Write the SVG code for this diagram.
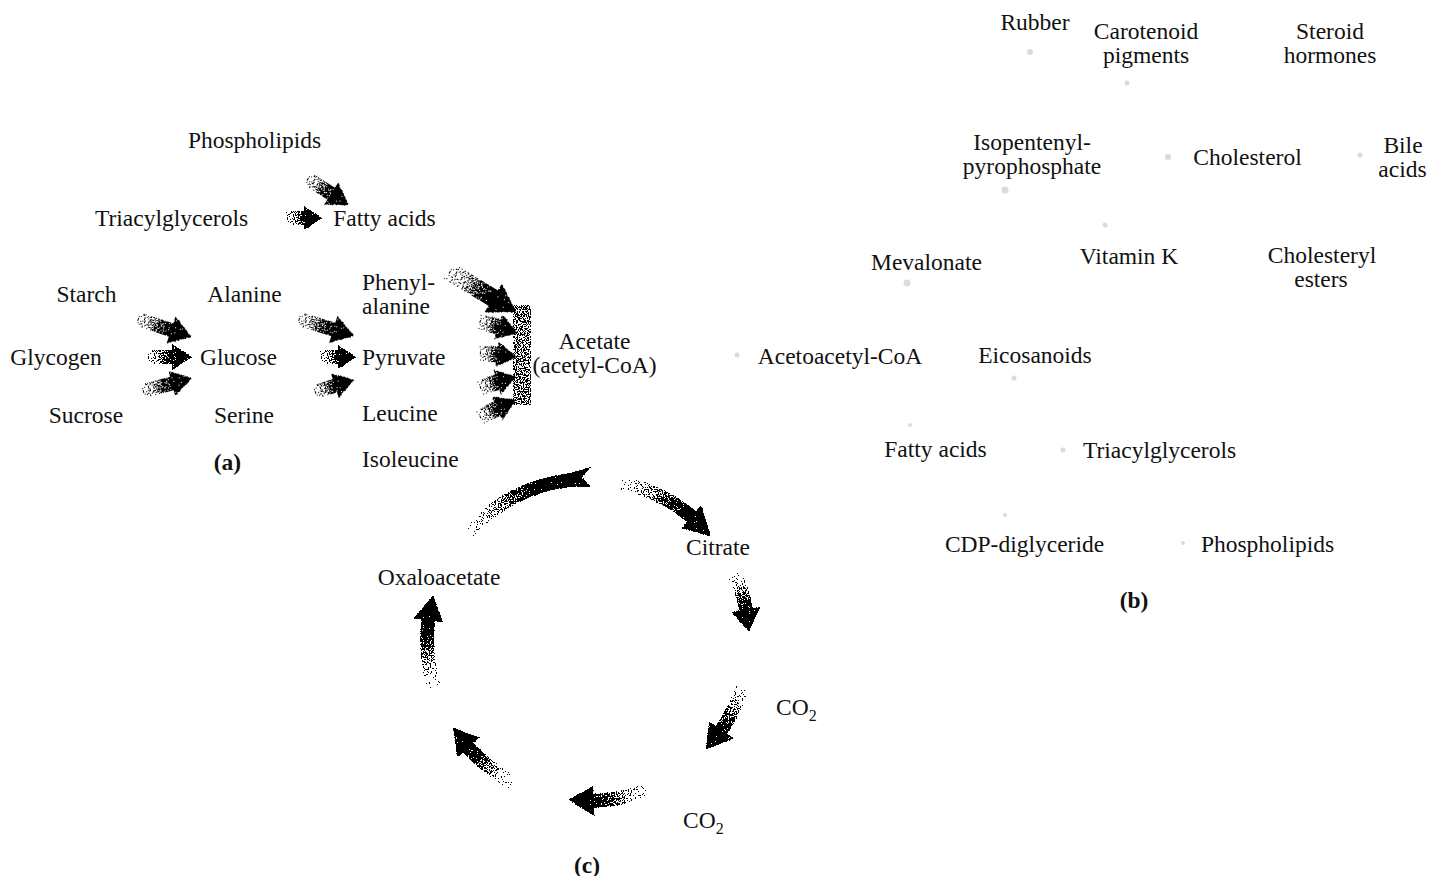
<svg xmlns="http://www.w3.org/2000/svg" width="1429" height="876" viewBox="0 0 1429 876">
<style>
.t{font-family:"Liberation Serif","Times New Roman",serif;font-size:23.5px;fill:#111}
.m{text-anchor:middle}
.b{font-weight:bold}
.sub{font-size:16px}
.arr{fill:url(#fade);filter:url(#grain)}
.speck{fill:#999;opacity:.35}
</style>
<defs>
<filter id="grain" x="-15%" y="-15%" width="130%" height="130%">
<feTurbulence type="fractalNoise" baseFrequency="0.85" numOctaves="1" seed="4" result="n"/>
<feColorMatrix in="n" type="matrix" values="0 0 0 0 0  0 0 0 0 0  0 0 0 0 0  1 0 0 0 0" result="na"/>
<feComposite in="SourceGraphic" in2="na" operator="arithmetic" k1="0" k2="1" k3="2.2" k4="-1.1" result="c"/>
<feComponentTransfer in="c" result="d"><feFuncA type="discrete" tableValues="0 1"/></feComponentTransfer>
<feComponentTransfer in="SourceAlpha" result="mask"><feFuncA type="discrete" tableValues="0 1 1 1 1 1 1 1 1 1 1 1 1 1 1 1 1 1 1 1"/></feComponentTransfer>
<feComposite in="d" in2="mask" operator="in"/>
</filter>
<linearGradient id="fade" x1="0" y1="0" x2="1" y2="0">
<stop offset="0" stop-color="#000" stop-opacity="0.1"/>
<stop offset="0.3" stop-color="#000" stop-opacity="0.45"/>
<stop offset="0.55" stop-color="#000" stop-opacity="0.8"/>
<stop offset="0.7" stop-color="#000" stop-opacity="1"/>
<stop offset="1" stop-color="#000" stop-opacity="1"/>
</linearGradient>
<linearGradient id="cf">
<stop offset="0" stop-color="#000" stop-opacity="0.08"/>
<stop offset="0.3" stop-color="#000" stop-opacity="0.45"/>
<stop offset="0.6" stop-color="#000" stop-opacity="0.85"/>
<stop offset="0.78" stop-color="#000" stop-opacity="1"/>
<stop offset="1" stop-color="#000" stop-opacity="1"/>
</linearGradient>
<linearGradient id="g1" gradientUnits="userSpaceOnUse" x1="466" y1="532" x2="588" y2="478" href="#cf"/>
<linearGradient id="g2" gradientUnits="userSpaceOnUse" x1="621" y1="482" x2="711" y2="536" href="#cf"/>
<linearGradient id="g3" gradientUnits="userSpaceOnUse" x1="734" y1="572" x2="749" y2="632" href="#cf"/>
<linearGradient id="g4" gradientUnits="userSpaceOnUse" x1="742" y1="687" x2="706" y2="750" href="#cf"/>
<linearGradient id="g5" gradientUnits="userSpaceOnUse" x1="646" y1="790" x2="568" y2="800" href="#cf"/>
<linearGradient id="g6" gradientUnits="userSpaceOnUse" x1="512" y1="782" x2="453" y2="728" href="#cf"/>
<linearGradient id="g7" gradientUnits="userSpaceOnUse" x1="434" y1="687" x2="433" y2="596" href="#cf"/>
</defs>
<rect width="1429" height="876" fill="#fff"/>

<g id="connectors">
<path class="arr" transform="translate(135,318) rotate(18.4)" d="M0,-7 L38,-7 L38,-14 L60,0 L38,14 L38,7 L0,7 Z"/>
<path class="arr" transform="translate(145,357)" d="M0,-7 L27,-7 L27,-13 L47,0 L27,13 L27,7 L0,7 Z"/>
<path class="arr" transform="translate(140,392) rotate(-15)" d="M0,-7 L33,-7 L33,-13 L54,0 L33,13 L33,7 L0,7 Z"/>
<path class="arr" transform="translate(296,318) rotate(17)" d="M0,-7 L39,-7 L39,-14 L61,0 L39,14 L39,7 L0,7 Z"/>
<path class="arr" transform="translate(318,357)" d="M0,-7 L20,-7 L20,-12 L38,0 L20,12 L20,7 L0,7 Z"/>
<path class="arr" transform="translate(312,393) rotate(-17.6)" d="M0,-7 L24,-7 L24,-13 L44,0 L24,13 L24,7 L0,7 Z"/>
<path class="arr" transform="translate(305,177) rotate(32.5)" d="M0,-7 L31,-7 L31,-13 L52,0 L31,13 L31,7 L0,7 Z"/>
<path class="arr" transform="translate(284,218)" d="M0,-7 L20,-7 L20,-12 L38,0 L20,12 L20,7 L0,7 Z"/>
<path class="arr" transform="translate(447,270) rotate(31.3)" d="M0,-9 L54,-9 L54,-17 L81,0 L54,17 L54,9 L0,9 Z"/>
<path class="arr" transform="translate(477,320) rotate(18)" d="M0,-8 L22,-8 L22,-13 L43,0 L22,13 L22,8 L0,8 Z"/>
<path class="arr" transform="translate(477,352) rotate(7)" d="M0,-8 L20,-8 L20,-13 L40,0 L20,13 L20,8 L0,8 Z"/>
<path class="arr" transform="translate(477,388) rotate(-16)" d="M0,-8 L21,-8 L21,-13 L41,0 L21,13 L21,8 L0,8 Z"/>
<path class="arr" transform="translate(477,418) rotate(-25)" d="M0,-8 L22,-8 L22,-13 L43,0 L22,13 L22,8 L0,8 Z"/>
<rect x="513" y="305" width="18" height="100" fill="#000" fill-opacity="0.5" filter="url(#grain)"/>

<path fill="url(#g1)" filter="url(#grain)" d="M463.2,527.6 A168,168 0 0,1 570.4,472.9 L591,467 L582.3,477.1 L590.7,487 L571.9,486.8 A154,154 0 0,0 473.6,537 Z"/>
<path fill="url(#g2)" filter="url(#grain)" d="M622.9,475.7 A168,168 0 0,1 696,511.3 L701.1,505.2 L711.3,536.5 L681.8,528.2 L687,522 A154,154 0 0,0 620,489.4 Z"/>
<path fill="url(#g3)" filter="url(#grain)" d="M740.3,569 A168,168 0 0,1 752.9,608 L760.8,606.4 L748.8,631.6 L731.3,612.1 L739.2,610.6 A154,154 0 0,0 727.6,574.9 Z"/>
<path fill="url(#g4)" filter="url(#grain)" d="M748.7,689.1 A168,168 0 0,1 727.3,733.9 L733.9,738.4 L705.8,749.8 L709,721.6 L715.7,726.1 A154,154 0 0,0 735.3,685 Z"/>
<path fill="url(#g5)" filter="url(#grain)" d="M648.2,796.8 A168,168 0 0,1 593.9,807.9 L594.1,815.9 L568.4,799.8 L593.1,785.9 L593.4,793.9 A154,154 0 0,0 643.2,783.8 Z"/>
<path fill="url(#g6)" filter="url(#grain)" d="M509.1,788.3 A168,168 0 0,1 463.2,752.4 L457.2,757.8 L453,727.7 L479.5,737.7 L473.6,743 A154,154 0 0,0 515.7,776 Z"/>
<path fill="url(#g7)" filter="url(#grain)" d="M427.3,689.1 A168,168 0 0,1 421.3,619.5 L413.3,618.5 L433.2,595.6 L443.1,622.2 L435.2,621.2 A154,154 0 0,0 440.7,685 Z"/>

<g id="faint-arrows-b">
<circle class="speck" cx="1030" cy="52" r="3"/>
<circle class="speck" cx="1127" cy="83" r="2.5"/>
<circle class="speck" cx="1005" cy="190" r="3.5"/>
<circle class="speck" cx="1168" cy="157" r="3"/>
<circle class="speck" cx="1360" cy="155" r="2.5"/>
<circle class="speck" cx="1105" cy="225" r="2.5"/>
<circle class="speck" cx="907" cy="283" r="3.5"/>
<circle class="speck" cx="737" cy="355" r="2.5"/>
<circle class="speck" cx="1014" cy="378" r="2.5"/>
<circle class="speck" cx="910" cy="425" r="2"/>
<circle class="speck" cx="1063" cy="450" r="2.5"/>
<circle class="speck" cx="1005" cy="515" r="2"/>
<circle class="speck" cx="1183" cy="543" r="2"/>
</g>
</g>

<g id="node-phospholipids-a"><text class="t m" x="254.5" y="148">Phospholipids</text></g>
<g id="node-triacylglycerols-a"><text class="t m" x="171.5" y="226">Triacylglycerols</text></g>
<g id="node-fattyacids-a"><text class="t m" x="384.5" y="226">Fatty acids</text></g>
<g id="node-starch"><text class="t m" x="86.5" y="302">Starch</text></g>
<g id="node-alanine"><text class="t m" x="244.5" y="302">Alanine</text></g>
<g id="node-phenylalanine"><text class="t" x="362" y="290">Phenyl-</text><text class="t" x="362" y="314">alanine</text></g>
<g id="node-glycogen"><text class="t m" x="56" y="365">Glycogen</text></g>
<g id="node-glucose"><text class="t m" x="238.5" y="365">Glucose</text></g>
<g id="node-pyruvate"><text class="t" x="362" y="365">Pyruvate</text></g>
<g id="node-acetate"><text class="t m" x="594.5" y="349">Acetate</text><text class="t m" x="594.5" y="373">(acetyl-CoA)</text></g>
<g id="node-sucrose"><text class="t m" x="86" y="423">Sucrose</text></g>
<g id="node-serine"><text class="t m" x="244" y="423">Serine</text></g>
<g id="node-leucine"><text class="t" x="362" y="421">Leucine</text></g>
<g id="node-isoleucine"><text class="t" x="362" y="467">Isoleucine</text></g>
<g id="label-a"><text class="t m b" x="227.5" y="470">(a)</text></g>

<g id="node-citrate"><text class="t m" x="718" y="555">Citrate</text></g>
<g id="node-oxaloacetate"><text class="t m" x="439" y="585">Oxaloacetate</text></g>
<g id="node-co2-1"><text class="t" x="776" y="715">CO<tspan class="sub" dy="6">2</tspan></text></g>
<g id="node-co2-2"><text class="t" x="683" y="828">CO<tspan class="sub" dy="6">2</tspan></text></g>
<g id="label-c"><text class="t m b" x="587" y="873">(c)</text></g>

<g id="node-rubber"><text class="t m" x="1035" y="30">Rubber</text></g>
<g id="node-carotenoid"><text class="t m" x="1146" y="39">Carotenoid</text><text class="t m" x="1146" y="63">pigments</text></g>
<g id="node-steroid"><text class="t m" x="1330" y="39">Steroid</text><text class="t m" x="1330" y="63">hormones</text></g>
<g id="node-ipp"><text class="t m" x="1032" y="150">Isopentenyl-</text><text class="t m" x="1032" y="174">pyrophosphate</text></g>
<g id="node-cholesterol"><text class="t m" x="1247.5" y="165">Cholesterol</text></g>
<g id="node-bile"><text class="t m" x="1403" y="153">Bile</text><text class="t m" x="1402.5" y="177">acids</text></g>
<g id="node-mevalonate"><text class="t m" x="926.5" y="270">Mevalonate</text></g>
<g id="node-vitamink"><text class="t m" x="1129" y="264">Vitamin K</text></g>
<g id="node-cholesteryl"><text class="t m" x="1322" y="263">Cholesteryl</text><text class="t m" x="1321" y="287">esters</text></g>
<g id="node-acetoacetyl"><text class="t m" x="840" y="364">Acetoacetyl-CoA</text></g>
<g id="node-eicosanoids"><text class="t m" x="1035" y="363">Eicosanoids</text></g>
<g id="node-fattyacids-b"><text class="t m" x="935.5" y="457">Fatty acids</text></g>
<g id="node-triacylglycerols-b"><text class="t m" x="1159.5" y="458">Triacylglycerols</text></g>
<g id="node-cdp"><text class="t m" x="1024.5" y="552">CDP-diglyceride</text></g>
<g id="node-phospholipids-b"><text class="t m" x="1267.5" y="552">Phospholipids</text></g>
<g id="label-b"><text class="t m b" x="1134" y="608">(b)</text></g>
</svg>
